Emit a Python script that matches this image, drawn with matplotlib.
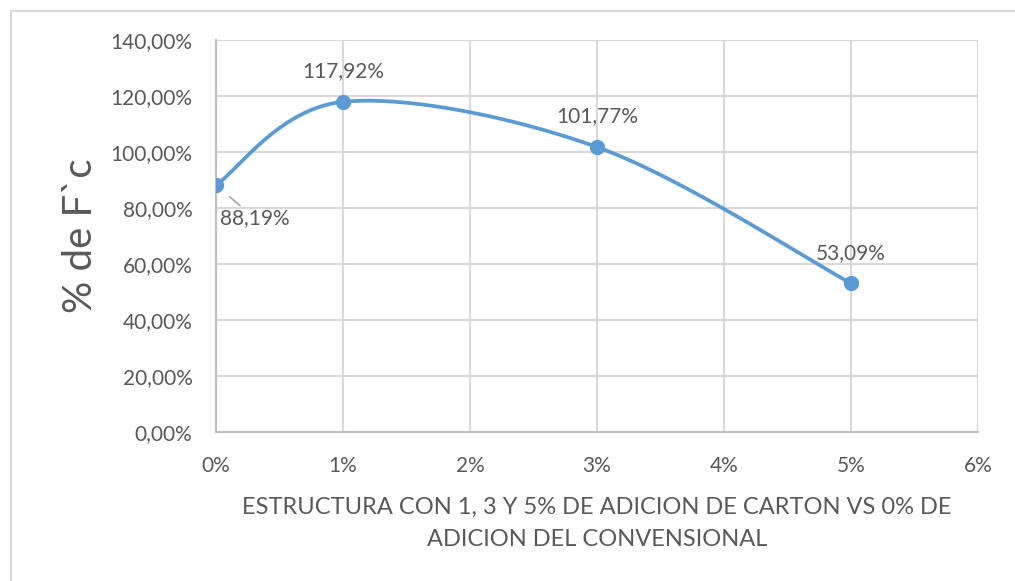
import numpy as np
import matplotlib.pyplot as plt
from matplotlib.patches import Rectangle
from matplotlib.ticker import FuncFormatter

plt.rcParams['font.family'] = ['Lato', 'DejaVu Sans']

x_vals = [0, 1, 3, 5]
y_vals = [0.8819, 1.1792, 1.0177, 0.5309]
labels = ['88,19%', '117,92%', '101,77%', '53,09%']
x_label = 'ESTRUCTURA CON 1, 3 Y 5% DE ADICION DE CARTON VS 0% DE\nADICION DEL CONVENSIONAL'
y_label = '% de F`c'

line_color = '#5B9BD5'
text_color = '#595959'
grid_color = '#D9D9D9'


def excel_smooth(xs, ys, n=60):
    # bezier through the points, catmull-rom style tangents like excel's smoothed line
    p = np.column_stack([xs, ys]).astype(float)
    ext = np.vstack([p[0], p, p[-1]])
    out = []
    t = np.linspace(0, 1, n)[:, None]
    for i in range(len(p) - 1):
        p0, p3 = ext[i + 1], ext[i + 2]
        c1 = p0 + (ext[i + 2] - ext[i]) / 6
        c2 = p3 - (ext[i + 3] - ext[i + 1]) / 6
        seg = ((1 - t) ** 3) * p0 + 3 * ((1 - t) ** 2) * t * c1 + 3 * (1 - t) * t ** 2 * c2 + t ** 3 * p3
        out.append(seg)
    out = np.vstack(out)
    return out[:, 0], out[:, 1]


fig = plt.figure(figsize=(10.15, 5.81), dpi=100)
fig.patches.append(Rectangle((11 / 1015, -0.1), 1.2, 1 - 11 / 581 + 0.1, transform=fig.transFigure,
                             fill=False, edgecolor=grid_color, linewidth=1.5))

ax = fig.add_axes([216 / 1015, 1 - 432 / 581, 762 / 1015, 392 / 581])

sx, sy = excel_smooth(x_vals, y_vals)
ax.plot(sx, sy, color=line_color, linewidth=2.7, zorder=3, solid_capstyle='round')
ax.plot(x_vals, y_vals, 'o', color=line_color, markersize=10, zorder=4)

offsets = [(28, -24), (0, 22), (0, 22), (0, 22)]
for xv, yv, lab, off in zip(x_vals, y_vals, labels, offsets):
    if off[1] < 0:
        ax.annotate(lab, (xv, yv), xytext=off, textcoords='offset points', ha='center', va='center',
                    fontsize=15, color=text_color,
                    arrowprops=dict(arrowstyle='-', color='#A6A6A6', lw=1.2, shrinkA=0, shrinkB=13))
    else:
        ax.annotate(lab, (xv, yv), xytext=off, textcoords='offset points', ha='center', va='center',
                    fontsize=15, color=text_color)

ax.set_xlim(0, 6)
ax.set_ylim(0, 1.4)
ax.set_xticks(np.arange(0, 7, 1))
ax.set_yticks(np.arange(0, 1.41, 0.2))
ax.xaxis.set_major_formatter(FuncFormatter(lambda v, p: f'{v:.0f}%'))
ax.yaxis.set_major_formatter(FuncFormatter(lambda v, p: f'{v * 100:.2f}%'.replace('.', ',')))
ax.tick_params(length=0, labelsize=15, labelcolor=text_color)
ax.tick_params(axis='x', pad=17)
ax.tick_params(axis='y', pad=17)
ax.grid(True, color=grid_color, linewidth=1.5)
ax.set_axisbelow(True)
for s in ['top', 'right']:
    ax.spines[s].set_visible(False)
for s in ['left', 'bottom']:
    ax.spines[s].set_color('#BFBFBF')
    ax.spines[s].set_linewidth(1.5)

ax.set_xlabel(x_label, fontsize=17, color=text_color, labelpad=15, linespacing=1.7)
ax.set_ylabel(y_label, fontsize=29, color=text_color, labelpad=8)

plt.savefig('out.png', dpi=100)
